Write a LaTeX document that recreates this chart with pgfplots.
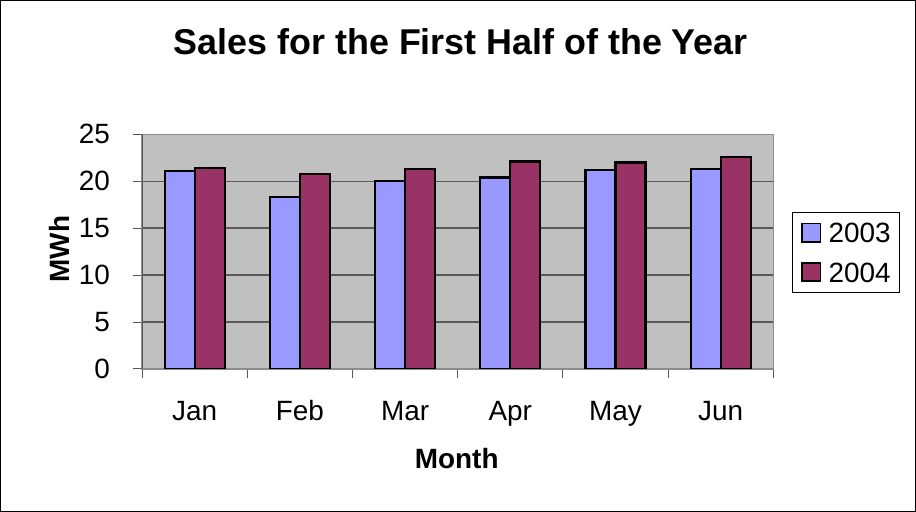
\documentclass[border=0pt]{standalone}
\usepackage{fontspec}
\setmainfont{Liberation Sans}
\usepackage{pgfplots}
\pgfplotsset{compat=1.18}
\definecolor{bgc}{HTML}{C0C0C0}
\definecolor{cA}{HTML}{9999FF}
\definecolor{cB}{HTML}{993366}
\definecolor{gridc}{HTML}{5A5A5A}
\definecolor{framec}{HTML}{8C8C8C}
\begin{document}
\begin{tikzpicture}
\useasboundingbox (0,0) rectangle (916bp,512bp);
\draw[black, line width=1bp] (0.5bp,0.5bp) rectangle (915.5bp,511.5bp);
\begin{axis}[
  at={(142bp,143bp)}, anchor=south west,
  scale only axis, width=631.3bp, height=234.7bp,
  ybar=0pt, bar width=30bp,
  xmin=0.5, xmax=6.5, ymin=0, ymax=25,
  xtick={0.5,1.5,...,6.5}, xticklabels={},
  extra x ticks={1,2,3,4,5,6},
  extra x tick labels={Jan,Feb,Mar,Apr,May,Jun},
  extra x tick style={major tick length=0pt, grid=none},
  ytick={0,5,10,15,20}, extra y ticks={25}, extra y tick style={grid=none},
  ymajorgrids, major grid style={gridc, line width=1.4bp},
  tick pos=left, tick align=outside, major tick length=9bp,
  tick style={gridc, line width=1bp},
  axis background/.style={fill=bgc},
  axis line style={framec, line width=1.5bp},
  /pgf/number format/assume math mode=true,
  ticklabel style={font=\fontsize{28}{30}\selectfont, inner sep=0pt},
  yticklabel style={anchor=east, xshift=-23bp},
  xticklabel style={anchor=base, yshift=-51bp},
  title={\bfseries Sales for the First Half of the Year},
  title style={font=\fontsize{36}{40}\selectfont, at={(axis description cs:0.505,1.3166)}, anchor=base, inner sep=0pt},
  xlabel={\bfseries Month},
  xlabel style={font=\fontsize{28}{30}\selectfont, at={(axis description cs:0.4985,-0.426)}, anchor=base, inner sep=0pt},
  ylabel={\bfseries MWh},
  ylabel style={font=\fontsize{28}{30}\selectfont, at={(axis description cs:-0.1152,0.511)}, anchor=base, rotate=0, inner sep=0pt},
  legend style={at={(axis description cs:1.0296,0.669)}, anchor=north west,
    draw=black, line width=1bp, fill=white,
    inner xsep=9bp, inner ysep=10bp, row sep=19bp, column sep=7.3bp,
    nodes={inner sep=0pt, text height=20.3bp, text depth=0bp, font=\fontsize{28}{30}\selectfont}},
  legend cell align=left,
  legend image code/.code={\draw[#1, draw=black, line width=1.6bp] (0bp,-9.15bp) rectangle (18.3bp,9.15bp);},
]
\addplot[fill=cA, draw=black, line width=2.2bp] coordinates {(1,21.1) (2,18.3) (3,20.0) (4,20.4) (5,21.2) (6,21.3)};
\addplot[fill=cB, draw=black, line width=2.2bp] coordinates {(1,21.4) (2,20.8) (3,21.3) (4,22.1) (5,22.0) (6,22.6)};
\legend{2003,2004}
\draw[gridc, line width=1.5bp] (axis description cs:0,0) -- (axis description cs:0,1);
\end{axis}
\end{tikzpicture}
\end{document}
